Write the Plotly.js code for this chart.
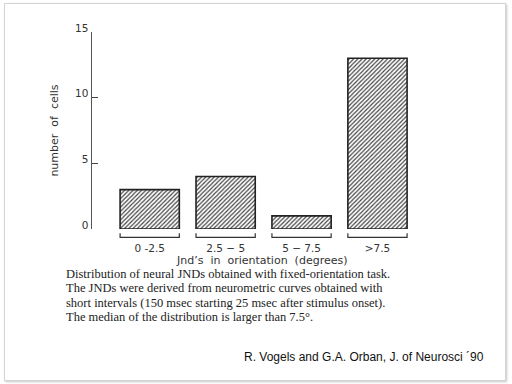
<!DOCTYPE html>
<html>
<head>
<meta charset="utf-8">
<script src="https://cdn.plot.ly/plotly-3.0.1.min.js"></script>
<style>
  html, body { margin: 0; padding: 0; background: #ffffff; }
  #frame { position: absolute; left: 4px; top: 3px; width: 500px; height: 376px;
           border: 1px solid #d4d4d4; box-shadow: 1px 1px 2px #c8c8c8; background: #fff; }
  #chart { position: absolute; left: 0; top: 0; width: 512px; height: 384px; }
</style>
</head>
<body>
<div id="frame"></div>
<div id="chart"></div>
<script>
// ---- data ----
const categories = ["0 -2.5", "2.5 \u2212 5", "5 \u2212 7.5", ">7.5"];
const cellCounts = [3, 4, 1, 13];
const yTickValues = [0, 5, 10, 15];
const yTickLabels = ["0", "5", "10", "15"];
const captionLines = [
  "Distribution of neural JNDs obtained with fixed-orientation task.",
  "The JNDs were derived from neurometric curves obtained with",
  "short intervals (150 msec starting 25 msec after stimulus onset).",
  "The median of the distribution is larger than 7.5\u00b0."
];
const citation = "R. Vogels and G.A. Orban, J. of Neurosci \u00b490";
const xTitle = "Jnd\u2019s  in  orientation  (degrees)";
const yTitle = "number  of  cells";

const idx = categories.map((c, i) => i);
const barWidth = 0.78;

const trace = {
  type: "bar",
  x: idx,
  y: cellCounts,
  width: barWidth,
  marker: {
    color: "#ffffff",
    line: { color: "#222222", width: 1.6 },
    pattern: { shape: "/", fgcolor: "#444444", bgcolor: "#ffffff", size: 3, solidity: 0.4 }
  },
  hoverinfo: "skip"
};

// brackets under each bar, derived from category positions
const shapes = idx.map(i => ({
  type: "path",
  xref: "x", yref: "paper",
  path: `M ${i - barWidth/2} -0.022 L ${i - barWidth/2} -0.043 L ${i + barWidth/2} -0.043 L ${i + barWidth/2} -0.022`,
  line: { color: "#333333", width: 1.2 }
}));

const captionFont = { family: "Liberation Serif, Times New Roman, serif", size: 12.5, color: "#222222" };
const annotations = [
  {
    xref: "paper", yref: "paper", x: 0.518, y: -0.158, xanchor: "center", yanchor: "middle",
    text: xTitle, showarrow: false,
    font: { family: "DejaVu Sans, sans-serif", size: 11, color: "#333333" }
  },
  {
    xref: "paper", yref: "paper", x: 1.2, y: -0.65, xanchor: "right", yanchor: "middle",
    text: citation, showarrow: false,
    font: { family: "Liberation Sans, Arial, sans-serif", size: 12, color: "#111111" }
  }
].concat(captionLines.map((line, k) => ({
  xref: "paper", yref: "paper", x: -0.085, y: -0.228 - 0.0726 * k,
  xanchor: "left", yanchor: "middle", align: "left",
  text: line, showarrow: false, font: captionFont
})));

const layout = {
  width: 512, height: 384,
  margin: { l: 92, r: 92, t: 32, b: 155 },
  paper_bgcolor: "rgba(0,0,0,0)",
  plot_bgcolor: "rgba(0,0,0,0)",
  showlegend: false,
  xaxis: {
    range: [-0.76, 3.56],
    tickmode: "array", tickvals: idx, ticktext: categories,
    ticks: "", showline: false, showgrid: false, zeroline: false,
    ticklabelstandoff: 11,
    tickfont: { family: "DejaVu Sans, sans-serif", size: 10.5, color: "#333333" },
    fixedrange: true
  },
  yaxis: {
    range: [0, 15],
    tickmode: "array", tickvals: yTickValues, ticktext: yTickLabels,
    ticks: "inside", ticklen: 6, tickwidth: 1.2, tickcolor: "#444444",
    showline: true, linecolor: "#555555", linewidth: 1.5,
    showgrid: false, zeroline: false,
    ticklabelstandoff: 0, ticklabelshift: -4,
    tickfont: { family: "DejaVu Sans, sans-serif", size: 10.5, color: "#333333" },
    title: { text: yTitle, standoff: 14,
             font: { family: "DejaVu Sans, sans-serif", size: 11, color: "#333333" } },
    fixedrange: true
  },
  shapes: shapes,
  annotations: annotations
};

Plotly.newPlot("chart", [trace], layout, { displayModeBar: false, staticPlot: true });
</script>
</body>
</html>
